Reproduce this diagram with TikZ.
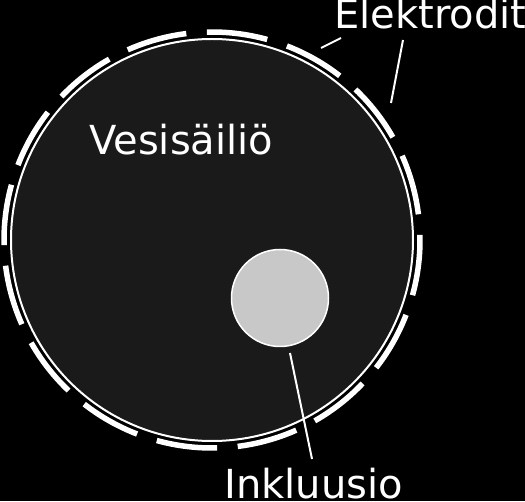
\documentclass[tikz,border=0pt]{standalone}
\usepackage{fontspec}
\setmainfont{DejaVu Sans}
\begin{document}
\begin{tikzpicture}[x=1pt,y=1pt,
  tank/.style={circle,draw=white,line width=2pt,fill=tankfill,minimum size=402pt,inner sep=0pt},
  inclusion/.style={circle,draw=white,line width=1.5pt,fill=inclfill,minimum size=97pt,inner sep=0pt},
  label/.style={text=white,inner sep=0pt,font=\fontsize{40}{48}\selectfont},
  electrode/.style={draw=white,line width=5.5pt},
  pointer/.style={draw=white,line width=2pt}]
\definecolor{tankfill}{HTML}{1A1A1A}
\definecolor{inclfill}{HTML}{C8C8C8}
\fill[black] (0,0) rectangle (525,501);
\useasboundingbox (0,0) rectangle (525,501);
\node[tank] (tank) at (212,261) {};
\node[inclusion] (incl) at (280,203) {};
\foreach \k in {0,...,15}{
  \pgfmathsetmacro{\a}{83+22.5*\k-8.4}
  \pgfmathsetmacro{\b}{83+22.5*\k+8.4}
  \draw[electrode] (tank.center) ++(\a:208) arc[start angle=\a,end angle=\b,radius=208];
}
\node[label,anchor=base west] (elek) at (334,472) {Elektrodit};
\node[label,anchor=base west] (vesi) at (89,346) {Vesisäiliö};
\node[label,anchor=base west] (inkl) at (224,3) {Inkluusio};
\coordinate (e1s) at (341,463);
\coordinate (e1e) at (321,453);
\coordinate (e2s) at (403,461);
\coordinate (e2e) at (391,398);
\coordinate (i1s) at (312,42);
\coordinate (i1e) at (290,148);
\draw[pointer] (e1s) -- (e1e);
\draw[pointer] (e2s) -- (e2e);
\draw[pointer] (i1s) -- (i1e);
\end{tikzpicture}
\end{document}
